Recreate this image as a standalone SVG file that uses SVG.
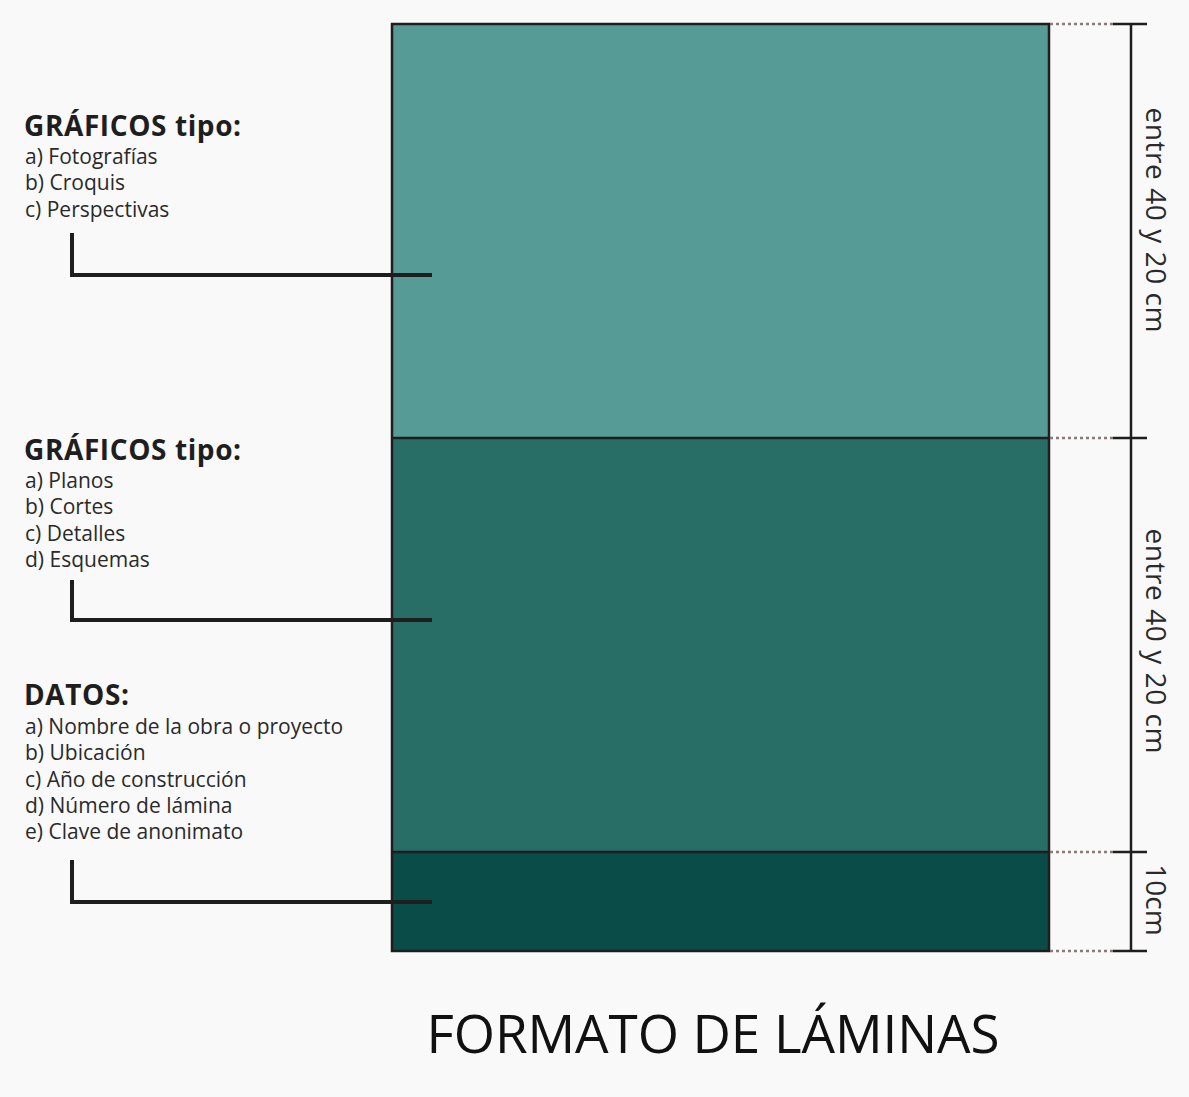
<svg xmlns="http://www.w3.org/2000/svg" width="1189" height="1097" viewBox="0 0 1189 1097">
<style>
.h{font-family:"Open Sans","Noto Sans",sans-serif;font-weight:bold;font-size:28px;letter-spacing:0.6px;fill:#1e1e1e}
.i{font-family:"Open Sans","Noto Sans",sans-serif;font-size:21px;fill:#2a2a2a}
.d{font-family:"Open Sans","Noto Sans",sans-serif;font-size:28px;fill:#2a2a2a}
.t{font-family:"Open Sans","Noto Sans",sans-serif;font-size:53px;fill:#111}
.c{fill:none;stroke:#1e1e1e;stroke-width:4}
.dot{stroke:#8a7a78;stroke-width:2.5;stroke-dasharray:3 3}
.tick{stroke:#1e1e1e;stroke-width:2.5}
</style>
<rect width="1189" height="1097" fill="#f9f9f9"/>
<g id="sheet">
<rect x="392" y="24" width="657" height="414" fill="#579b96"/>
<rect x="392" y="438" width="657" height="414" fill="#286e67"/>
<rect x="392" y="852" width="657" height="99" fill="#0a4c47"/>
<line x1="392" y1="438" x2="1049" y2="438" stroke="#1e1e1e" stroke-width="2.5"/>
<line x1="392" y1="852" x2="1049" y2="852" stroke="#1e1e1e" stroke-width="2.5"/>
<rect x="392" y="24" width="657" height="927" fill="none" stroke="#1e1e1e" stroke-width="2.5"/>
</g>
<g id="dimensions">
<line x1="1050" y1="24" x2="1113" y2="24" class="dot"/>
<line x1="1050" y1="438" x2="1113" y2="438" class="dot"/>
<line x1="1050" y1="852" x2="1113" y2="852" class="dot"/>
<line x1="1050" y1="951" x2="1113" y2="951" class="dot"/>
<line x1="1131" y1="24" x2="1131" y2="951" class="tick"/>
<line x1="1113" y1="24" x2="1147" y2="24" class="tick"/>
<line x1="1113" y1="438" x2="1147" y2="438" class="tick"/>
<line x1="1113" y1="852" x2="1147" y2="852" class="tick"/>
<line x1="1113" y1="951" x2="1147" y2="951" class="tick"/>
<text class="d" transform="translate(1146,220) rotate(90)" text-anchor="middle" textLength="225">entre 40 y 20 cm</text>
<text class="d" transform="translate(1146,641) rotate(90)" text-anchor="middle" textLength="225">entre 40 y 20 cm</text>
<text class="d" transform="translate(1146,900) rotate(90)" text-anchor="middle">10cm</text>
</g>
<g id="label-graficos-1">
<text class="h" x="24" y="136">GRÁFICOS tipo:</text>
<text class="i" x="25" y="164">a) Fotografías</text>
<text class="i" x="25" y="190">b) Croquis</text>
<text class="i" x="25" y="217">c) Perspectivas</text>
</g>
<g id="label-graficos-2">
<text class="h" x="24" y="460">GRÁFICOS tipo:</text>
<text class="i" x="25" y="488">a) Planos</text>
<text class="i" x="25" y="514">b) Cortes</text>
<text class="i" x="25" y="541">c) Detalles</text>
<text class="i" x="25" y="567">d) Esquemas</text>
</g>
<g id="label-datos">
<text class="h" x="24" y="705">DATOS:</text>
<text class="i" x="25" y="734">a) Nombre de la obra o proyecto</text>
<text class="i" x="25" y="760">b) Ubicación</text>
<text class="i" x="25" y="787">c) Año de construcción</text>
<text class="i" x="25" y="813">d) Número de lámina</text>
<text class="i" x="25" y="839">e) Clave de anonimato</text>
</g>
<g id="connectors">
<polyline class="c" points="72,233 72,275 432,275"/>
<polyline class="c" points="72,580 72,620 432,620"/>
<polyline class="c" points="72,860 72,902 432,902"/>
</g>
<g id="title">
<text class="t" x="713" y="1053" text-anchor="middle" textLength="573">FORMATO DE LÁMINAS</text>
</g>
</svg>
